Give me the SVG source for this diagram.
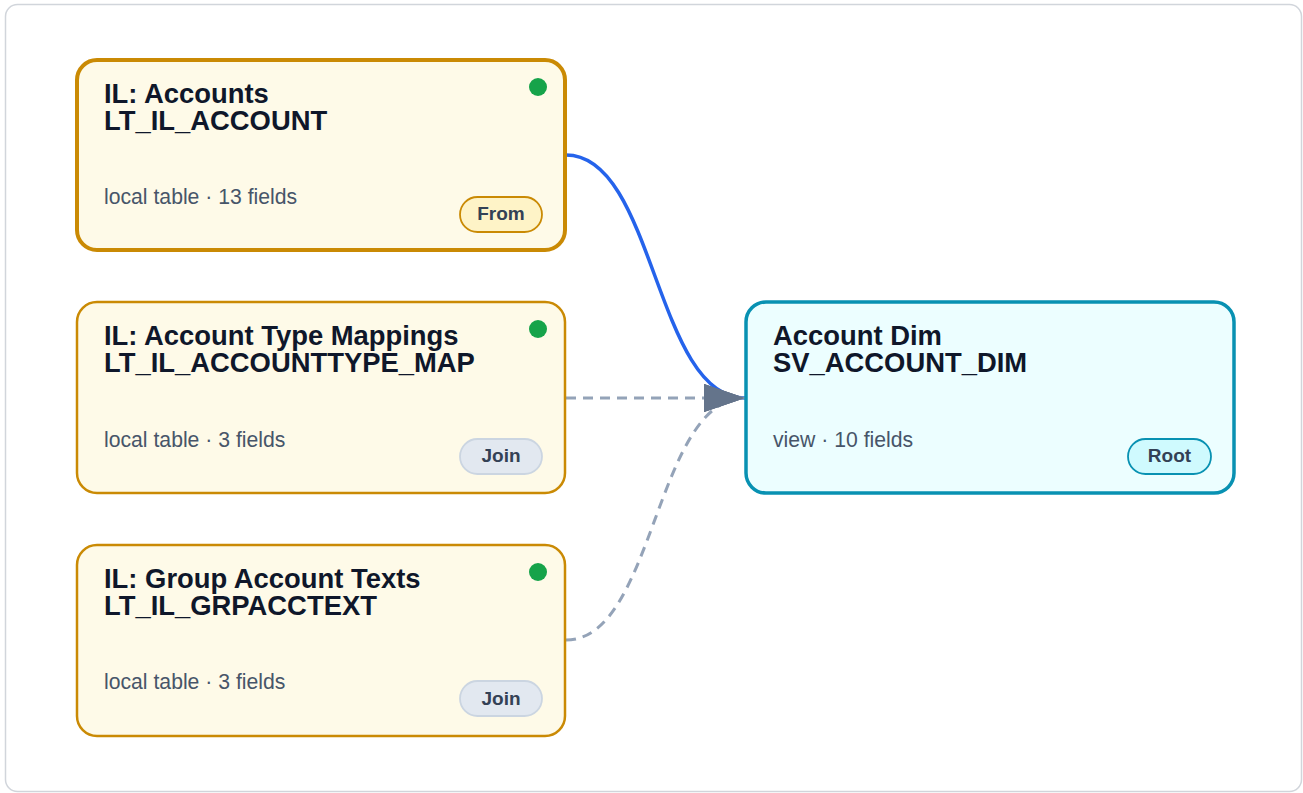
<svg xmlns="http://www.w3.org/2000/svg" width="1303" height="793" viewBox="0 0 1303 793">
<style>
.title{font-family:"Liberation Sans",Arial,sans-serif;font-weight:bold;font-size:27.4px;fill:#0f172a}
.sub{font-family:"Liberation Sans",Arial,sans-serif;font-size:21.2px;fill:#475569}
.badge{font-family:"Liberation Sans",Arial,sans-serif;font-weight:bold;font-size:19px;fill:#334155;text-anchor:middle}
.il{fill:#fefae8;stroke:#ca8a04}
.dot{fill:#16a34a}
.edge{fill:none}
</style>
<defs>
<marker id="arr" markerUnits="userSpaceOnUse" markerWidth="42" markerHeight="28" refX="41" refY="14" orient="auto">
<path d="M0,0 L41,14 L0,28 Z" fill="#64748b"/>
</marker>
</defs>
<rect x="5.5" y="4.5" width="1296" height="787" rx="12" fill="#ffffff" stroke="#d1d5db" stroke-width="1.5"/>
<g id="connectors">
<path class="edge" d="M566,640 C655,640 655,398 745,398" stroke="#94a3b8" stroke-width="3" stroke-dasharray="10 7" marker-end="url(#arr)"/>
<path class="edge" d="M566,155 C655,155 655,398 745,398" stroke="#2563eb" stroke-width="3.5" marker-end="url(#arr)"/>
<path class="edge" d="M566,398 L745,398" stroke="#94a3b8" stroke-width="3" stroke-dasharray="10 7" marker-end="url(#arr)"/>
</g>
<g id="node-accounts">
<rect class="il" x="77" y="60" width="488" height="190" rx="20" stroke-width="4"/>
<circle class="dot" cx="538" cy="87" r="9"/>
<text class="title" x="104" y="103">IL: Accounts</text>
<text class="title" x="104" y="130">LT_IL_ACCOUNT</text>
<text class="sub" x="104" y="204">local table · 13 fields</text>
<rect x="460" y="197" width="82" height="35" rx="17.5" fill="#fef3c7" stroke="#ca8a04" stroke-width="1.8"/>
<text class="badge" x="501" y="220">From</text>
</g>
<g id="node-accounttype">
<rect class="il" x="77" y="302" width="488" height="191" rx="20" stroke-width="2.5"/>
<circle class="dot" cx="538" cy="329" r="9"/>
<text class="title" x="104" y="345">IL: Account Type Mappings</text>
<text class="title" x="104" y="372">LT_IL_ACCOUNTTYPE_MAP</text>
<text class="sub" x="104" y="446.5">local table · 3 fields</text>
<rect x="460" y="439" width="82" height="35" rx="17.5" fill="#e2e8f0" stroke="#cbd5e1" stroke-width="1.8"/>
<text class="badge" x="501" y="462">Join</text>
</g>
<g id="node-grpacctext">
<rect class="il" x="77" y="545" width="488" height="191" rx="20" stroke-width="2.5"/>
<circle class="dot" cx="538" cy="572" r="9"/>
<text class="title" x="104" y="588">IL: Group Account Texts</text>
<text class="title" x="104" y="615">LT_IL_GRPACCTEXT</text>
<text class="sub" x="104" y="689">local table · 3 fields</text>
<rect x="460" y="681" width="82" height="35" rx="17.5" fill="#e2e8f0" stroke="#cbd5e1" stroke-width="1.8"/>
<text class="badge" x="501" y="704.5">Join</text>
</g>
<g id="node-accountdim">
<rect x="746" y="302" width="488" height="191" rx="20" fill="#ecfeff" stroke="#0891b2" stroke-width="3.5"/>
<text class="title" x="773" y="345">Account Dim</text>
<text class="title" x="773" y="372">SV_ACCOUNT_DIM</text>
<text class="sub" x="773" y="446.5">view · 10 fields</text>
<rect x="1128" y="439" width="83" height="35" rx="17.5" fill="#cffafe" stroke="#0891b2" stroke-width="1.8"/>
<text class="badge" x="1169.5" y="462">Root</text>
</g>
</svg>
